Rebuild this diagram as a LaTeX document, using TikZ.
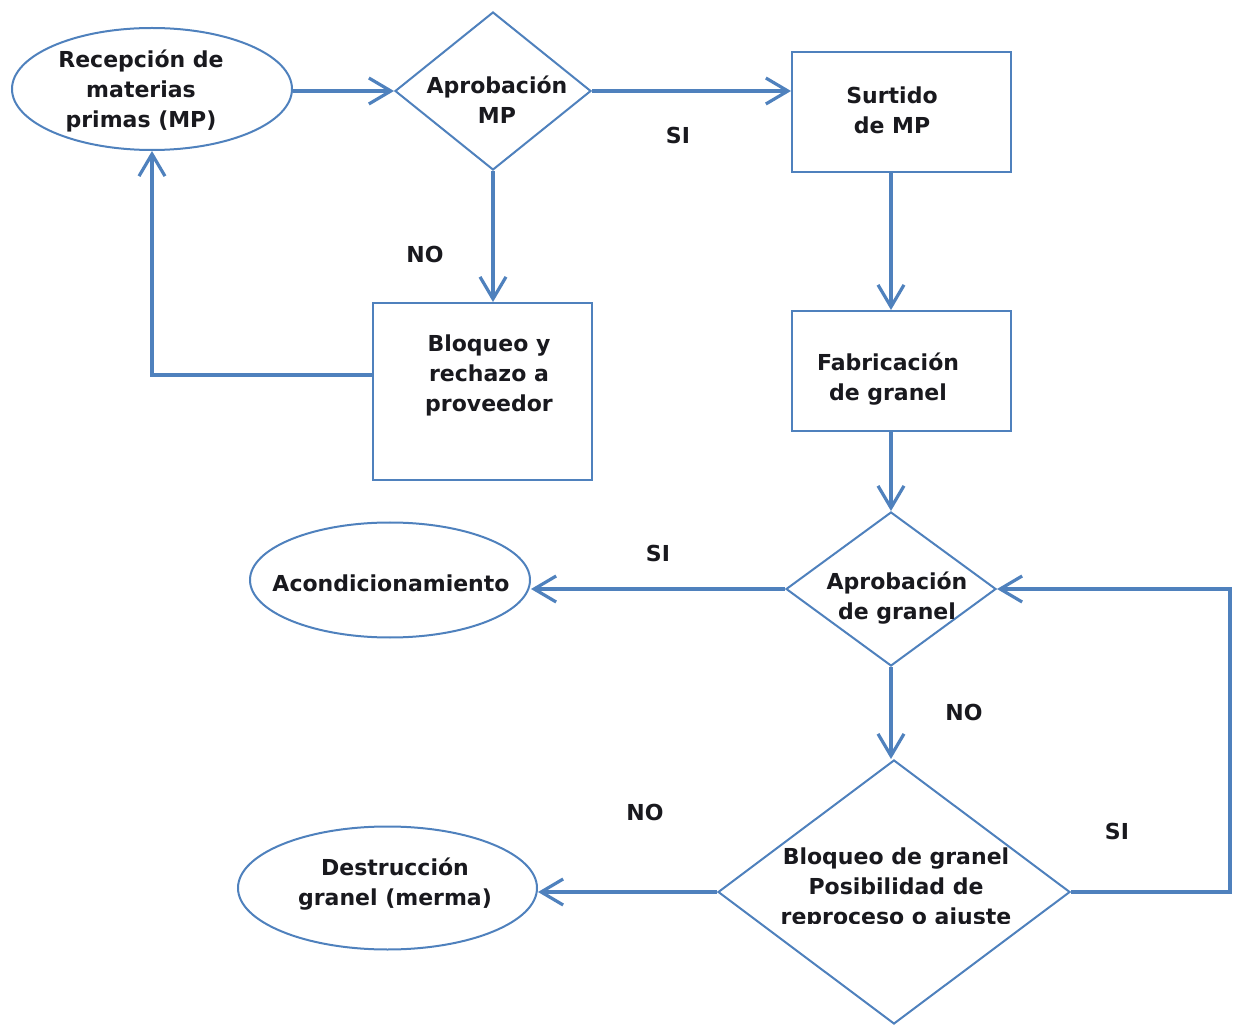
\documentclass[tikz,border=0pt]{standalone}
\usepackage{fontspec}
\setmainfont{DejaVu Sans}
\usetikzlibrary{shapes.geometric,arrows.meta}
\definecolor{flowblue}{RGB}{79,129,189}
\definecolor{ink}{RGB}{25,25,30}

\begin{document}
\begin{tikzpicture}[x=0.5pt,y=-0.5pt,
  shapeline/.style={draw=flowblue,line width=1pt,inner sep=0pt,fill=white},
  term/.style={shapeline,ellipse},
  stepbox/.style={shapeline,rectangle},
  decision/.style={shapeline,diamond},
  txt/.style={font=\fontsize{11}{15}\selectfont\bfseries,text=ink,align=center,inner sep=0pt},
  link/.style={draw=flowblue,line width=1.9pt},
  arr/.style={link,-{Straight Barb[length=11pt,width=13pt,line width=1.6pt]}}]

\useasboundingbox (0,0) rectangle (1233,1027);

% shapes
\node[term,minimum width=140pt,minimum height=61pt] (rec) at (152,89) {};
\node[decision,minimum width=98pt,minimum height=79pt] (d1) at (493,91) {};
\node[stepbox,minimum width=109.5pt,minimum height=60pt] (surt) at (901.5,112) {};
\node[stepbox,minimum width=109.5pt,minimum height=88.5pt] (bloq) at (482.5,391.5) {};
\node[stepbox,minimum width=109.5pt,minimum height=60pt] (fab) at (901.5,371) {};
\node[decision,minimum width=105pt,minimum height=77pt] (d2) at (891,589) {};
\node[term,minimum width=140pt,minimum height=57.5pt] (acond) at (390,580) {};
\node[decision,minimum width=176pt,minimum height=132pt] (d3) at (894,892) {};
\node[term,minimum width=149.5pt,minimum height=61.5pt] (dest) at (387.5,888) {};

% texts
\node[txt] (rect) at (141,91) {Recepción de\\materias\\primas (MP)};
\node[txt] (d1t) at (497,100) {Aprobación\\MP};
\node[txt] (surtt) at (892,110) {Surtido\\de MP};
\node[txt] (bloqt) at (489,375) {Bloqueo y\\rechazo a\\proveedor};
\node[txt] (fabt) at (888,379) {Fabricación\\de granel};
\node[txt] (d2t) at (897,598) {Aprobación\\de granel};
\node[txt] (acondt) at (391,583) {Acondicionamiento};
\node[txt] (destt) at (395,884) {Destrucción\\granel (merma)};
% the last line of this label is cut at its baseline
\begin{scope}
  \clip (700,800) rectangle (1100,923);
  \node[txt] (d3t) at (896,889) {Bloqueo de granel\\Posibilidad de\\reproceso o ajuste};
\end{scope}

% branch labels
\node[txt] (si1) at (678,135) {SI};
\node[txt] (no1) at (425,254) {NO};
\node[txt] (si2) at (658,553) {SI};
\node[txt] (no2) at (964,712) {NO};
\node[txt] (no3) at (645,812) {NO};
\node[txt] (si3) at (1117,831) {SI};

% connectors
\draw[arr] (rec.east |- d1.west) -- (d1.west);
\draw[arr] (d1.east) -- (surt.west |- d1.east);
\draw[arr] (d1.south) -- (bloq.north -| d1.south);
\draw[arr] (bloq.west |- bloqt) -| (rec.south);
\draw[arr] (surt.south -| d2.north) -- (fab.north -| d2.north);
\draw[arr] (fab.south -| d2.north) -- (d2.north);
\draw[arr] (d2.west) -- (acond.east |- d2.west);
\draw[arr] (d2.south) -- (d3.north -| d2.south);
\draw[arr] (d3.west) -- (dest.east |- d3.west);
\coordinate (rt) at (1230,892);
\draw[arr] (d3.east) -- (rt) |- (d2.east);
\end{tikzpicture}
\end{document}
